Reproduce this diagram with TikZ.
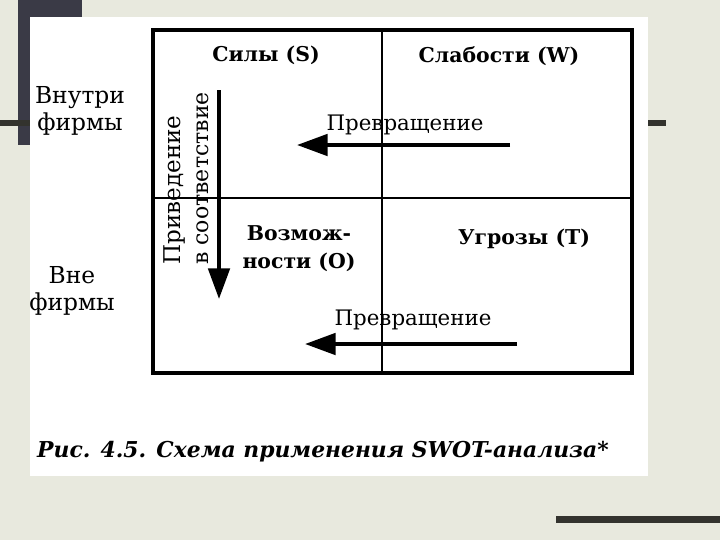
\documentclass[tikz,border=0pt]{standalone}
\usepackage{fontspec}
\setmainfont{DejaVu Serif}
\usetikzlibrary{arrows.meta}
\definecolor{bgc}{HTML}{E8E9DE}
\definecolor{darkbar}{HTML}{3A3A46}
\definecolor{barc}{HTML}{33332E}
\tikzset{
  head/.style={font=\bfseries\fontsize{15.3}{21}\selectfont, inner sep=0pt},
  plain/.style={font=\fontsize{16}{19}\selectfont, inner sep=0pt},
  side/.style={font=\fontsize{17.5}{20}\selectfont, inner sep=0pt, align=center},
  rot/.style={inner sep=0pt, rotate=90, anchor=west},
  bigarrow/.style={line width=3pt, -{Triangle[length=23pt,width=16pt]}},
}
\begin{document}
\begin{tikzpicture}[x=0.75pt,y=-0.75pt]
\useasboundingbox (0,0) rectangle (720,540);
\fill[bgc] (0,0) rectangle (720,540);
% slide decoration
\fill[darkbar] (18,0) rectangle (82,145);
\fill[barc] (0,120) rectangle (30,126);
\fill[barc] (648,120) rectangle (666,126);
\fill[barc] (556,516) rectangle (720,523);
% white panel
\fill[white] (30,17) rectangle (648,476);
% matrix
\coordinate (tl) at (153,30);
\coordinate (br) at (632,373);
\coordinate (vt) at (382,30);
\coordinate (vb) at (382,373);
\coordinate (hl) at (153,198);
\coordinate (hr) at (632,198);
\draw[line width=0.9pt] (vt) -- (vb);
\draw[line width=0.9pt] (hl) -- (hr);
\draw[line width=2.3pt] (tl) rectangle (br);
% headings
\node[head] (s) at (266,55) {Силы (S)};
\node[head] (w) at (499,56) {Слабости (W)};
\node[head, align=center] (o) at (299,249) {Возмож-\\ности (O)};
\node[head] (t) at (524,239) {Угрозы (T)};
% left labels
\node[side] (in) at (80,111) {Внутри\\фирмы};
\node[side] (out) at (72,291) {Вне\\фирмы};
% rotated labels
\node[rot, font=\fontsize{17.3}{20}\selectfont] (r1) at (174,265) {Приведение};
\node[rot, font=\fontsize{16.5}{20}\selectfont] (r2) at (203,265) {в соответствие};
% arrows
\coordinate (va) at (219,90);
\coordinate (vz) at (219,299);
\draw[bigarrow] (va) -- (vz);
\node[plain] (p1) at (405,125) {Превращение};
\coordinate (a1s) at (510,145);
\coordinate (a1e) at (297,145);
\draw[bigarrow] (a1s) -- (a1e);
\node[plain] (p2) at (413,320) {Превращение};
\coordinate (a2s) at (517,344);
\coordinate (a2e) at (305,344);
\draw[bigarrow] (a2s) -- (a2e);
% caption
\node[font=\bfseries\itshape\fontsize{16.4}{19}\selectfont, inner sep=0pt] (cap) at (323,452) {Рис. 4.5. Схема применения SWOT-анализа*};
\end{tikzpicture}
\end{document}
